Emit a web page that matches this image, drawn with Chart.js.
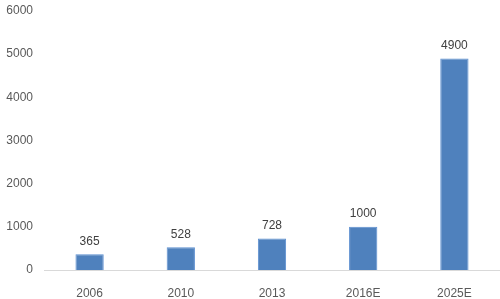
<!DOCTYPE html>
<html>
<head>
<meta charset="utf-8">
<script src="https://cdn.jsdelivr.net/npm/chart.js@4"></script>
<style>
  html, body { margin: 0; padding: 0; background: #fff; }
  #wrap { width: 500px; height: 299px; position: relative; }
</style>
</head>
<body>
<div id="wrap"><canvas id="chart"></canvas></div>
<script>
const years = ['2006', '2010', '2013', '2016E', '2025E'];
const values = [365, 528, 728, 1000, 4900];
const yTicks = [0, 1000, 2000, 3000, 4000, 5000, 6000];

// labels above each bar
const barLabels = {
  id: 'barLabels',
  afterDatasetsDraw(chart) {
    const ctx = chart.ctx;
    const meta = chart.getDatasetMeta(0);
    ctx.save();
    ctx.font = '12px "Liberation Sans", sans-serif';
    ctx.fillStyle = '#404040';
    ctx.textAlign = 'center';
    ctx.textBaseline = 'bottom';
    meta.data.forEach((bar, i) => {
      ctx.fillText(values[i], bar.x, bar.y - 7);
    });
    ctx.restore();
  }
};

Chart.defaults.font.family = '"Liberation Sans", sans-serif';
Chart.defaults.font.size = 12;
Chart.defaults.color = '#595959';

new Chart(document.getElementById('chart').getContext('2d'), {
  type: 'bar',
  data: {
    labels: years,
    datasets: [{
      data: values,
      backgroundColor: '#4f81bd',
      borderColor: '#5b8ed0',
      borderWidth: 1,
      barPercentage: 0.31,
      categoryPercentage: 1
    }]
  },
  options: {
    responsive: true,
    maintainAspectRatio: false,
    animation: false,
    layout: { padding: { top: 11, right: 0, bottom: 0, left: 0 } },
    plugins: {
      legend: { display: false },
      tooltip: { enabled: false }
    },
    scales: {
      x: {
        grid: { display: false },
        border: { display: true, color: '#d9d9d9', width: 1 },
        ticks: { padding: 8 },
        afterFit: s => { s.height = 29; s.paddingLeft = 0; s.paddingRight = 0; }
      },
      y: {
        min: 0,
        max: 6000,
        afterBuildTicks: s => { s.ticks = yTicks.map(v => ({ value: v })); },
        grid: { display: false, drawTicks: false },
        border: { display: false },
        ticks: { padding: 11, callback: v => String(v) },
        afterFit: s => { s.width = 44; s.paddingTop = 0; s.paddingBottom = 0; }
      }
    }
  },
  plugins: [barLabels]
});
</script>
</body>
</html>
